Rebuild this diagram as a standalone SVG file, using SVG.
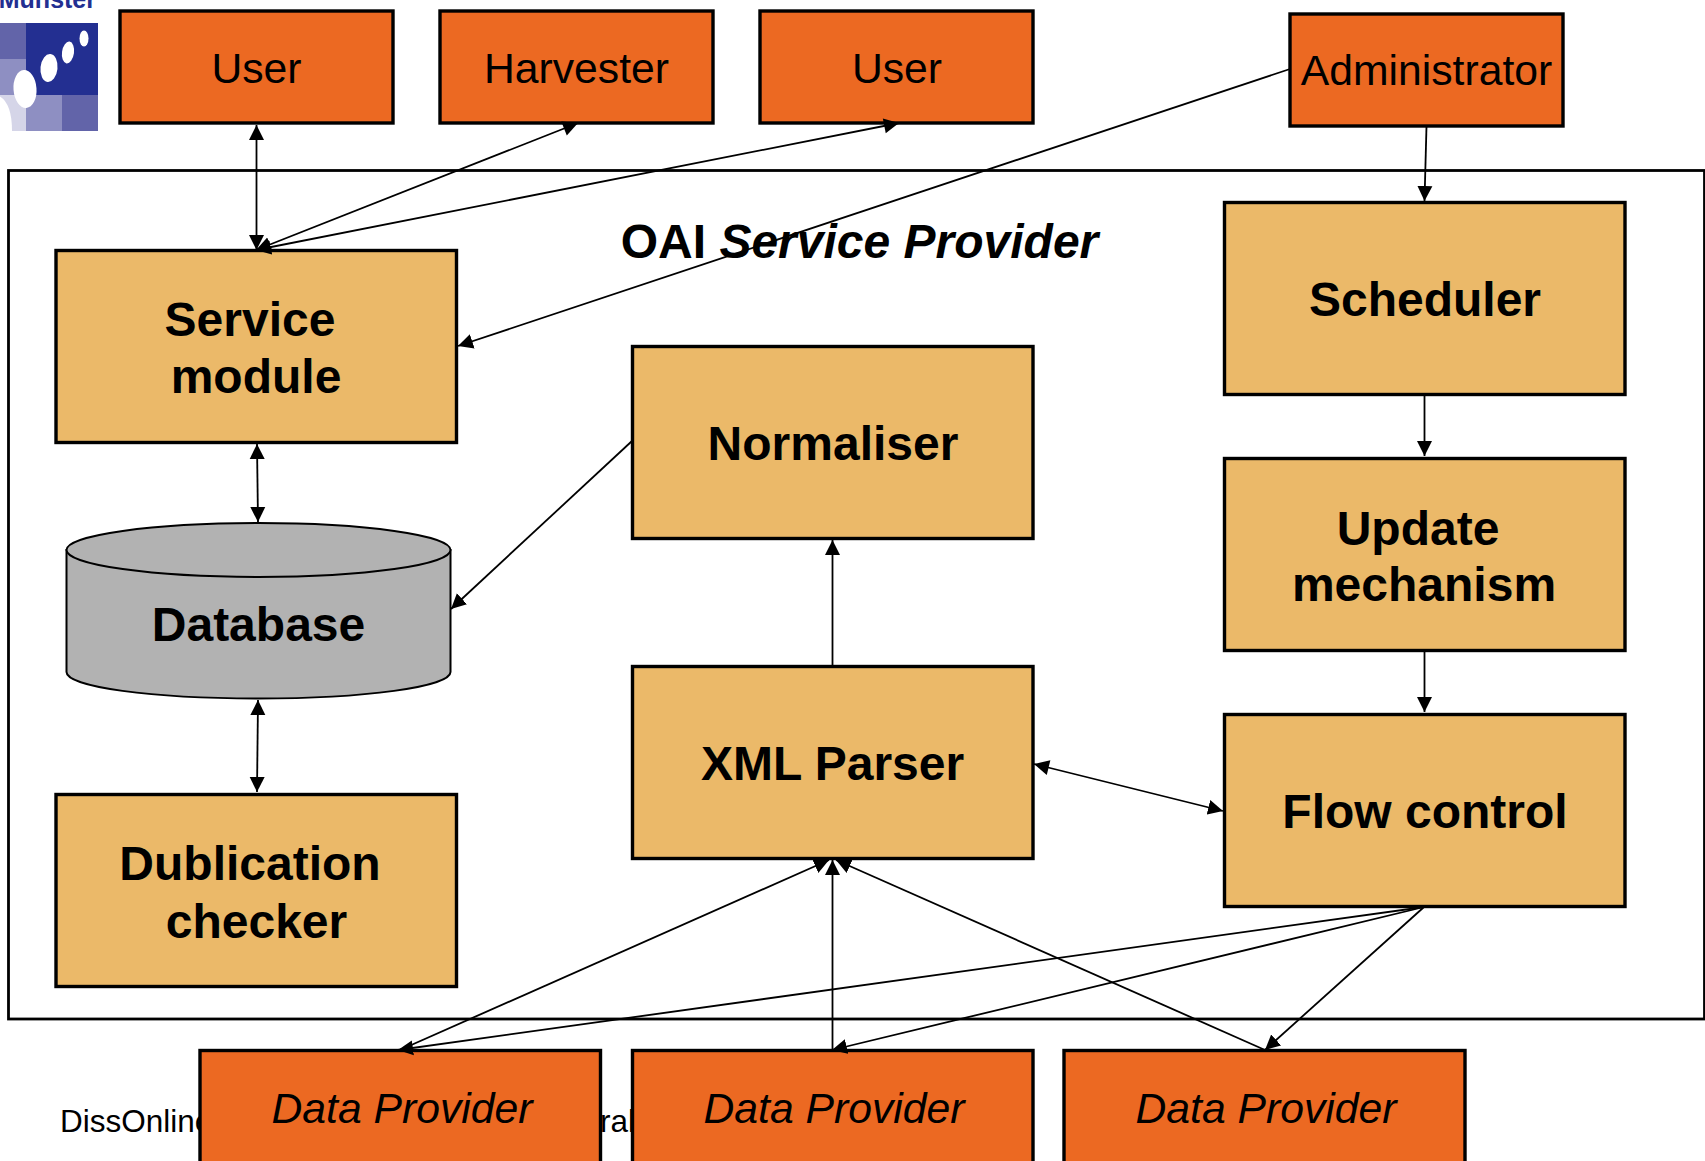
<svg xmlns="http://www.w3.org/2000/svg" width="1705" height="1161" viewBox="0 0 1705 1161">
<style>
text{font-family:"Liberation Sans",Arial,Helvetica,sans-serif;fill:#000;text-anchor:middle}
.o{fill:#ec6922;stroke:#000;stroke-width:3.4}
.y{fill:#ebb969;stroke:#000;stroke-width:3.4}
.r{font-size:42.7px}
.i{font-size:42.7px;font-style:italic}
.b{font-size:48px;font-weight:bold}
.f{font-size:31.5px;text-anchor:start}
.c line{stroke:#000;stroke-width:1.8;fill:none}
.e{marker-end:url(#a)}
.s{marker-start:url(#s);marker-end:url(#a)}
</style>
<defs>
<marker id="a" markerUnits="userSpaceOnUse" markerWidth="16" markerHeight="16" refX="15" refY="8" orient="auto"><path d="M0 0.5L15 8L0 15.500Z" fill="#000"/></marker>
<marker id="s" markerUnits="userSpaceOnUse" markerWidth="16" markerHeight="16" refX="0" refY="8" orient="auto"><path d="M15 0.5L0 8L15 15.500Z" fill="#000"/></marker>
</defs>
<rect width="1705" height="1161" fill="#fff"/>
<g id="logo">
<text x="96" y="8" style="text-anchor:end;font-size:25px;fill:#232f91;font-weight:bold">Münster</text>
<rect x="26" y="23" width="72" height="72" fill="#232f91"/>
<rect y="23" width="26" height="37" fill="#6264a9"/>
<rect y="59" width="26" height="36" fill="#8e8fc2"/>
<rect x="26" y="95" width="36" height="36" fill="#8e8fc2"/>
<rect x="62" y="95" width="36" height="36" fill="#6264a9"/>
<rect y="95" width="26" height="36" fill="#d5d5e8"/>
<path d="M0 96.500Q12 104 12 131H0Z" fill="#fff"/>
<ellipse cx="25" cy="89" rx="11.500" ry="19" fill="#fff" transform="rotate(-4 25 89)"/>
<ellipse cx="49" cy="68" rx="8.500" ry="14" fill="#fff" transform="rotate(6 49 68)"/>
<ellipse cx="68" cy="52.500" rx="6" ry="11" fill="#fff" transform="rotate(8 68 52.500)"/>
<ellipse cx="84" cy="38.500" rx="4.500" ry="8" fill="#fff"/>
</g>
<g id="footer">
<text class="f" x="60" y="1132">DissOnline</text>
<text class="f" x="600" y="1132">ral</text>
</g>
<g id="oai-service-provider">
<rect x="8.500" y="170.500" width="1696" height="848.500" fill="none" stroke="#000" stroke-width="2.800"/>
<text x="859.500" y="258" class="b">OAI <tspan font-style="italic">Service Provider</tspan></text>
</g>
<g id="user-1"><rect class="o" x="120" y="11" width="273" height="112"/><text class="r" x="256.500" y="83">User</text></g>
<g id="harvester"><rect class="o" x="440" y="11" width="273" height="112"/><text class="r" x="576.500" y="83">Harvester</text></g>
<g id="user-2"><rect class="o" x="760" y="11" width="273" height="112"/><text class="r" x="897" y="83">User</text></g>
<g id="administrator"><rect class="o" x="1290" y="14" width="273" height="112"/><text class="r" x="1426.500" y="85">Administrator</text></g>
<g id="service-module"><rect class="y" x="56" y="250.500" width="400.500" height="192"/><text class="b" x="250" y="336">Service</text><text class="b" x="256" y="393">module</text></g>
<g id="database">
<path d="M66.500 550V672C66.500 687 152 698.500 258 698.500S450.500 687 450.500 672V550Z" fill="#b2b2b2" stroke="#000" stroke-width="2"/>
<ellipse cx="258.500" cy="550" rx="192" ry="27" fill="#b2b2b2" stroke="#000" stroke-width="2"/>
<text class="b" x="258.500" y="641">Database</text>
</g>
<g id="dublication-checker"><rect class="y" x="56" y="794.500" width="400.500" height="192"/><text class="b" x="250" y="880">Dublication</text><text class="b" x="256.500" y="938">checker</text></g>
<g id="normaliser"><rect class="y" x="632.500" y="346.500" width="400.500" height="192"/><text class="b" x="833" y="460">Normaliser</text></g>
<g id="xml-parser"><rect class="y" x="632.500" y="666.500" width="400.500" height="192"/><text class="b" x="832.500" y="780">XML Parser</text></g>
<g id="scheduler"><rect class="y" x="1224.500" y="202.500" width="400.500" height="192"/><text class="b" x="1425" y="316">Scheduler</text></g>
<g id="update-mechanism"><rect class="y" x="1224.500" y="458.500" width="400.500" height="192"/><text class="b" x="1418" y="544.500">Update</text><text class="b" x="1424" y="601">mechanism</text></g>
<g id="flow-control"><rect class="y" x="1224.500" y="714.500" width="400.500" height="192"/><text class="b" x="1425" y="828">Flow control</text></g>
<g id="data-provider-1"><rect class="o" x="200" y="1050.500" width="400.500" height="130"/><text class="i" x="402" y="1123">Data Provider</text></g>
<g id="data-provider-2"><rect class="o" x="632.500" y="1050.500" width="400.500" height="130"/><text class="i" x="834" y="1123">Data Provider</text></g>
<g id="data-provider-3"><rect class="o" x="1064" y="1050.500" width="401" height="130"/><text class="i" x="1266" y="1123">Data Provider</text></g>
<g id="connectors" class="c">
<line class="s" x1="256.500" y1="125" x2="256.500" y2="250"/>
<line class="s" x1="578" y1="123" x2="256" y2="250"/>
<line class="s" x1="899" y1="123" x2="256" y2="250"/>
<line class="e" x1="1290" y1="69" x2="458" y2="346"/>
<line class="e" x1="1426.500" y1="126" x2="1424.500" y2="201"/>
<line class="e" x1="1424.500" y1="395" x2="1424.500" y2="456"/>
<line class="e" x1="1424.500" y1="651" x2="1424.500" y2="712"/>
<line class="s" x1="257" y1="444" x2="258" y2="522"/>
<line class="e" x1="632" y1="441" x2="451" y2="609"/>
<line class="e" x1="832.500" y1="667" x2="832.500" y2="540"/>
<line class="s" x1="258" y1="700" x2="257" y2="792"/>
<line class="s" x1="1034" y1="764" x2="1223" y2="811"/>
<line class="e" x1="400" y1="1050" x2="829" y2="860"/>
<line class="e" x1="832.500" y1="1050" x2="832.500" y2="860"/>
<line class="e" x1="1265" y1="1050" x2="836" y2="860"/>
<line class="e" x1="1424" y1="907" x2="398" y2="1050"/>
<line class="e" x1="1424" y1="907" x2="832" y2="1050"/>
<line class="e" x1="1424" y1="907" x2="1265" y2="1050"/>
</g>
</svg>
